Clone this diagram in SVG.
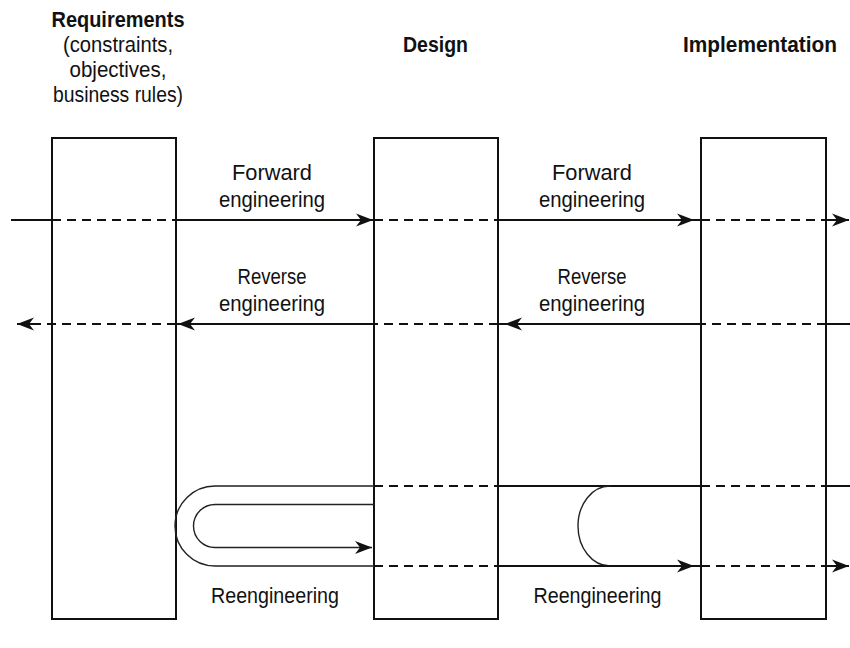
<svg xmlns="http://www.w3.org/2000/svg" width="850" height="648" viewBox="0 0 850 648">
<style>
text{font-family:"Liberation Sans Narrow","Liberation Sans",Arial,sans-serif;font-size:22.5px;fill:#111;text-anchor:middle}
.b{font-weight:bold;font-size:22px}
.box{fill:#fff;stroke:#111;stroke-width:2}
.s{stroke:#111;stroke-width:2;fill:none}
.d{stroke:#111;stroke-width:2;fill:none;stroke-dasharray:9 6}
.u{stroke:#222;stroke-width:1.4;fill:none}
</style>
<defs>
<marker id="ah" markerUnits="userSpaceOnUse" markerWidth="22" markerHeight="16" viewBox="-18 -8 20 16" refX="0" refY="0" orient="auto">
<path d="M0,0 L-17,-6.5 L-12,0 L-17,6.5 Z" fill="#111"/>
</marker>
</defs>
<rect width="850" height="648" fill="#fff"/>
<g id="requirements">
<rect class="box" x="52" y="138" width="124" height="481"/>
<text class="b" x="118" y="27" textLength="133" lengthAdjust="spacingAndGlyphs">Requirements</text>
<text x="118" y="52" textLength="110" lengthAdjust="spacingAndGlyphs">(constraints,</text>
<text x="118" y="77" textLength="97" lengthAdjust="spacingAndGlyphs">objectives,</text>
<text x="118" y="102" textLength="130" lengthAdjust="spacingAndGlyphs">business rules)</text>
</g>
<g id="design">
<rect class="box" x="374" y="138" width="124" height="481"/>
<text class="b" x="435.5" y="52" textLength="65" lengthAdjust="spacingAndGlyphs">Design</text>
</g>
<g id="implementation">
<rect class="box" x="701" y="138" width="125" height="481"/>
<text class="b" x="760" y="52" textLength="154" lengthAdjust="spacingAndGlyphs">Implementation</text>
</g>
<g id="connectors">
<line class="s" x1="11" y1="220" x2="52" y2="220"/>
<line class="d" x1="52" y1="220" x2="176" y2="220"/>
<line class="s" x1="176" y1="220" x2="373" y2="220" marker-end="url(#ah)"/>
<line class="d" x1="374" y1="220" x2="498" y2="220"/>
<line class="s" x1="498" y1="220" x2="694" y2="220" marker-end="url(#ah)"/>
<line class="s" x1="694" y1="220" x2="701" y2="220"/>
<line class="d" x1="701" y1="220" x2="826" y2="220"/>
<line class="s" x1="826" y1="220" x2="849" y2="220" marker-end="url(#ah)"/>
<line class="s" x1="850" y1="324" x2="826" y2="324"/>
<line class="d" x1="826" y1="324" x2="701" y2="324"/>
<line class="s" x1="701" y1="324" x2="505" y2="324" marker-end="url(#ah)"/>
<line class="s" x1="505" y1="324" x2="498" y2="324"/>
<line class="d" x1="498" y1="324" x2="374" y2="324"/>
<line class="s" x1="374" y1="324" x2="178" y2="324" marker-end="url(#ah)"/>
<line class="s" x1="178" y1="324" x2="176" y2="324"/>
<line class="d" x1="176" y1="324" x2="33" y2="324"/>
<line class="s" x1="33" y1="324" x2="17" y2="324" marker-end="url(#ah)"/>
<path class="u" d="M374,486 L215,486 A40,40 0 0 0 215,566 L374,566"/>
<path class="u" d="M374,504.5 L215,504.5 A21.5,21.5 0 0 0 215,547.5 L372,547.5" marker-end="url(#ah)"/>
<line class="d" x1="374" y1="486" x2="498" y2="486"/>
<line class="s" x1="498" y1="486" x2="701" y2="486"/>
<line class="d" x1="701" y1="486" x2="826" y2="486"/>
<line class="s" x1="826" y1="486" x2="850" y2="486"/>
<path class="u" d="M610,486 A32,40 0 0 0 610,566"/>
<line class="d" x1="374" y1="566" x2="498" y2="566"/>
<line class="s" x1="498" y1="566" x2="694" y2="566" marker-end="url(#ah)"/>
<line class="s" x1="694" y1="566" x2="701" y2="566"/>
<line class="d" x1="701" y1="566" x2="826" y2="566"/>
<line class="s" x1="826" y1="566" x2="849" y2="566" marker-end="url(#ah)"/>
</g>
<g id="labels">
<text x="272" y="180" textLength="80" lengthAdjust="spacingAndGlyphs">Forward</text>
<text x="272" y="207" textLength="106" lengthAdjust="spacingAndGlyphs">engineering</text>
<text x="592" y="180" textLength="80" lengthAdjust="spacingAndGlyphs">Forward</text>
<text x="592" y="207" textLength="106" lengthAdjust="spacingAndGlyphs">engineering</text>
<text x="272" y="284" textLength="69" lengthAdjust="spacingAndGlyphs">Reverse</text>
<text x="272" y="311" textLength="106" lengthAdjust="spacingAndGlyphs">engineering</text>
<text x="592" y="284" textLength="69" lengthAdjust="spacingAndGlyphs">Reverse</text>
<text x="592" y="311" textLength="106" lengthAdjust="spacingAndGlyphs">engineering</text>
<text x="275" y="603" textLength="128" lengthAdjust="spacingAndGlyphs">Reengineering</text>
<text x="597.5" y="603" textLength="128" lengthAdjust="spacingAndGlyphs">Reengineering</text>
</g>
</svg>
